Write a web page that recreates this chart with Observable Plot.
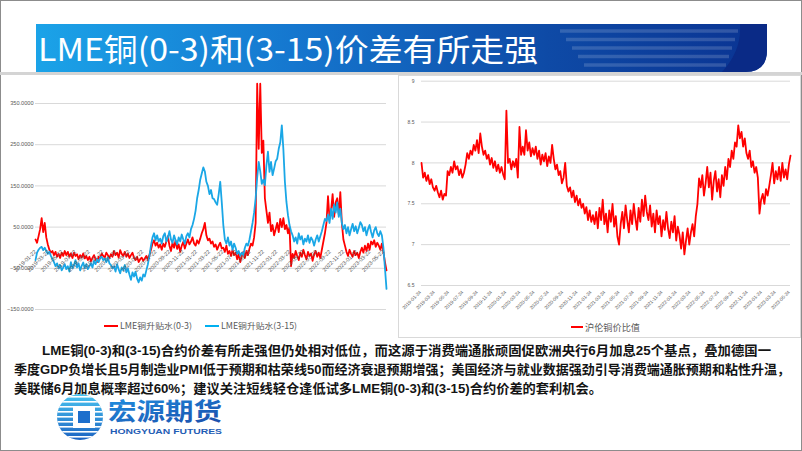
<!DOCTYPE html>
<html><head><meta charset="utf-8">
<script src="https://cdn.jsdelivr.net/npm/d3@7"></script>
<script src="https://cdn.jsdelivr.net/npm/@observablehq/plot@0.6"></script>
<style>
html,body{margin:0;padding:0;background:#fff;}
#slide{position:relative;width:802px;height:451px;overflow:hidden;background:#fff;}
.layer{position:absolute;}
</style></head>
<body><div id="slide"></div>
<script>
// ---------- data ----------
const titleText = "LME铜(0-3)和(3-15)价差有所走强";
const seriesNames = ["LME铜升贴水(0-3)", "LME铜升贴水(3-15)", "沪伦铜价比值"];
const leftTicks = [-150, -50, 50, 150, 250, 350];
const rightTicks = [6.5, 7, 7.5, 8, 8.5, 9];
const leftDateLabels = ["2019-01-22","2019-03-22","2019-05-22","2019-07-22","2019-09-22","2019-11-22",
  "2020-01-22","2020-03-22","2020-05-22","2020-07-22","2020-09-22","2020-11-22",
  "2021-01-22","2021-03-22","2021-05-22","2021-07-22","2021-09-22","2021-11-22",
  "2022-01-22","2022-03-22","2022-05-22","2022-07-22","2022-09-22","2022-11-22",
  "2023-01-22","2023-03-22","2023-05-22"];
const rightDateLabels = ["2019-01-24","2019-03-24","2019-05-24","2019-07-24","2019-09-24","2019-11-24",
  "2020-01-24","2020-03-24","2020-05-24","2020-07-24","2020-09-24","2020-11-24",
  "2021-01-24","2021-03-24","2021-05-24","2021-07-24","2021-09-24","2021-11-24",
  "2022-01-24","2022-03-24","2022-05-24","2022-07-24","2022-09-24","2022-11-24",
  "2023-01-24","2023-03-24","2023-05-24"];
const leftStart = "2019-01-22";   // weekly observations
const rightStart = "2019-01-24";  // weekly observations

const spread03 = [
  20,12,28,45,72,38,60,25,8,-5,-12,
  -8,-18,-10,-22,-15,-25,-12,-20,-8,-18,
  -10,-22,-14,-25,-12,-20,-16,-28,-18,-24,-14,-26,-20,
  -30,-22,-33,-25,-18,-28,-35,-22,-26,
  -14,-20,-24,-12,-18,-25,-16,-22,
  -8,-18,-12,-24,-6,-15,-20,-10,-22,-14,-25,-18,-12,
  -25,-30,-22,-35,-28,-24,-32,-26,-20,-30,-18,
  -5,10,18,5,12,0,
  8,-5,10,2,15,28,5,-8,12,0,18,-3,8,-10,5,14,-2,10,20,
  8,15,25,10,5,18,10,22,35,
  45,60,30,18,22,
  10,15,2,8,-5,5,12,-2,
  0,-10,5,-15,-8,-20,-5,-18,-12,-28,-15,-35,-20,-10,-25,-8,-18,-2,
  10,5,25,60,
  398,240,398,230,260,120,90,
  60,85,40,55,30,45,
  60,38,70,50,72,45,55,35,50,
  -45,
  -15,-25,-8,-20,-30,-12,-22,-5,-18,-28,-10,-20,-14,-32,-16,-8,-22,-12,-25,-5,15,35,60,
  125,70,90,130,75,110,120,80,135,
  60,20,5,-10,-20,-5,-15,-22,-8,-18,-12,-25,-10,
  0,-12,5,-8,10,-5,15,8,18,2,12,5,-5,10,
  -10,-35,-55];

const spread315 = [
  -30,-12,-5,0,2,-6,0,-8,-15,-10,-20,
  -28,-35,-45,-38,-50,-42,-55,-48,-40,-52,
  -45,-58,-35,-50,-42,-30,-48,-38,-55,-44,-36,-50,-40,
  -52,-45,-38,-48,-32,-40,-28,-35,-25,
  -22,-30,-26,-35,-24,-38,-42,-50,
  -45,-58,-40,-52,-62,-48,-55,-42,-60,-50,-65,-78,-60,
  -70,-58,-75,-84,-72,-80,-65,-70,-55,-40,-20,
  5,25,35,18,30,15,
  22,10,28,35,15,25,40,20,12,30,18,8,25,15,32,20,10,28,35,
  25,45,55,70,90,120,140,165,180,
  195,185,160,150,130,
  140,120,118,110,104,130,160,110,
  55,20,10,25,5,15,-5,10,0,-15,-8,-20,-12,-18,0,10,5,20,
  40,60,85,120,
  170,208,185,155,165,152,200,
  233,184,208,176,192,210,
  216,240,256,297,240,160,111,79,55,
  40,
  30,15,25,10,35,20,28,8,22,15,30,12,25,18,5,20,30,15,28,40,55,70,65,
  80,60,95,70,105,85,110,75,95,
  60,45,55,35,50,30,45,58,40,52,35,48,62,
  55,40,50,30,45,55,38,25,42,50,35,28,40,30,
  0,-50,-100];

const ratio = [
  8.0,7.82,7.88,7.78,7.85,
  7.74,7.80,7.70,7.66,7.72,7.64,
  7.58,7.66,7.55,7.62,
  7.60,7.90,7.85,7.95,7.88,8.02,7.92,7.96,7.85,7.92,7.82,7.88,
  7.98,8.12,8.05,8.15,8.10,
  8.22,8.15,8.28,8.12,8.36,8.20,
  8.10,8.15,8.05,8.10,7.98,8.06,7.94,8.02,7.90,7.98,7.88,7.95,7.86,7.80,
  8.64,8.00,
  8.05,7.92,8.02,7.95,8.05,7.82,
  8.44,8.10,
  8.20,8.10,8.40,8.15,8.25,8.08,8.18,8.10,
  8.20,8.05,8.15,7.98,8.10,8.02,8.12,7.96,8.08,8.00,8.22,
  8.05,7.92,7.98,7.85,7.90,7.75,7.82,8.00,
  7.72,7.65,7.70,7.58,7.66,7.52,7.60,7.48,7.56,7.45,
  7.50,7.38,7.46,7.30,7.42,7.28,7.36,7.25,
  7.40,7.20,7.45,7.30,7.55,7.25,7.38,7.15,7.42,7.28,7.50,7.22,7.35,7.10,7.00,
  7.25,7.40,7.20,7.48,7.30,7.15,7.42,7.25,7.50,7.32,7.18,7.45,7.28,7.55,7.35,7.60,7.40,
  7.30,7.48,7.22,7.38,7.15,7.42,7.25,7.35,7.10,7.30,7.18,7.40,7.20,7.08,7.28,7.15,7.35,7.05,7.22,7.12,6.95,7.15,6.88,
  7.05,7.20,7.00,7.15,7.25,7.10,7.35,7.50,
  7.81,7.70,7.85,7.60,7.75,7.95,7.70,7.88,7.55,7.78,7.90,7.65,7.80,7.58,7.85,7.72,7.95,7.80,
  8.05,7.95,8.15,8.05,8.25,8.20,8.46,8.30,
  8.38,8.20,8.30,8.12,8.05,8.15,7.95,8.02,7.88,7.95,
  7.82,7.38,7.55,7.62,7.50,7.68,7.60,7.72,
  7.85,8.00,7.75,7.90,7.80,7.95,7.78,8.00,7.82,7.92,7.80,7.98,8.09];

const paragraphLines = [
  "LME铜(0-3)和(3-15)合约价差有所走强但仍处相对低位，而这源于消费端通胀顽固促欧洲央行6月加息25个基点，叠加德国一",
  "季度GDP负增长且5月制造业PMI低于预期和枯荣线50而经济衰退预期增强；美国经济与就业数据强劲引导消费端通胀预期和粘性升温，",
  "美联储6月加息概率超过60%；建议关注短线轻仓逢低试多LME铜(0-3)和(3-15)合约价差的套利机会。"
];
const logoName = "宏源期货";
const logoEn = "HONGYUAN FUTURES";

// ---------- build ----------
const parse = d3.utcParse("%Y-%m-%d");
const weekly = (start, vals) => vals.map((v, i) => ({date: d3.utcDay.offset(parse(start), 7 * i), v}));
const d03 = weekly(leftStart, spread03);
const d315 = weekly(leftStart, spread315);
const dr = weekly(rightStart, ratio);

const slide = document.getElementById("slide");
const CJK = "'Noto Sans CJK SC','Liberation Sans',sans-serif";
const LAT = "'Liberation Sans','Noto Sans CJK SC',sans-serif";

// decorative slide layer
let deco = `<svg class="layer" style="left:0;top:0" width="802" height="451" xmlns="http://www.w3.org/2000/svg">
<defs>
 <linearGradient id="bn" x1="0" x2="1" y1="0" y2="0">
  <stop offset="0" stop-color="#1ba3e8"/><stop offset="0.35" stop-color="#1577cf"/>
  <stop offset="0.7" stop-color="#0e4aa6"/><stop offset="1" stop-color="#0a3392"/>
 </linearGradient>
 <linearGradient id="lg" x1="0" x2="0" y1="0" y2="1">
  <stop offset="0" stop-color="#4cc8f2"/><stop offset="1" stop-color="#1a5fc0"/>
 </linearGradient>
 <linearGradient id="lt" x1="0" x2="1" y1="0" y2="1">
  <stop offset="0" stop-color="#1f8fe0"/><stop offset="1" stop-color="#1a4aa8"/>
 </linearGradient>
 <clipPath id="cc"><circle cx="80" cy="417" r="23"/></clipPath>
</defs>
<rect x="0.5" y="0.5" width="801" height="450" fill="none" stroke="#8c8c8c"/>
<path d="M36,24 H767 V50 Q767,72 745,72 H36 Z" fill="url(#bn)"/>`;
[31, 39.5, 48, 56.5, 65].forEach((y, k) => {
  deco += `<line x1="${560 + k * 6}" x2="${738 - k * 3}" y1="${y}" y2="${y}" stroke="#ffffff" stroke-opacity="0.16" stroke-width="3.5"/>`;
});
deco += `<path d="M740,24 H767 V50 Q767,72 745,72 H722 Q742,50 740,24 Z" fill="#0a2a86"/>
<rect x="0" y="72" width="802" height="3" fill="#d4d4d4"/>
<text x="38" y="61" font-family="${CJK}" font-size="31" fill="#fff" textLength="500" lengthAdjust="spacingAndGlyphs">${titleText}</text>
<rect x="398.5" y="75.5" width="402" height="262" fill="none" stroke="#d9d9d9"/>
<line x1="104" x2="118" y1="326" y2="326" stroke="#ff0000" stroke-width="2"/>
<text x="120" y="329" font-family="${CJK}" font-size="8.5" fill="#595959" textLength="72" lengthAdjust="spacingAndGlyphs">${seriesNames[0]}</text>
<line x1="205" x2="219" y1="326" y2="326" stroke="#00b0f0" stroke-width="2"/>
<text x="221" y="329" font-family="${CJK}" font-size="8.5" fill="#595959" textLength="76" lengthAdjust="spacingAndGlyphs">${seriesNames[1]}</text>
<line x1="571" x2="583" y1="327" y2="327" stroke="#ff0000" stroke-width="2"/>
<text x="585" y="330.5" font-family="${CJK}" font-size="9.3" fill="#595959" textLength="55" lengthAdjust="spacingAndGlyphs">${seriesNames[2]}</text>`;
const pl = [[42, 355, 729], [14, 374, 776], [14, 393, 588]];
paragraphLines.forEach((t, k) => {
  deco += `<text x="${pl[k][0]}" y="${pl[k][1]}" font-family="${LAT}" font-weight="700" font-size="13" fill="#141414" textLength="${pl[k][2]}" lengthAdjust="spacingAndGlyphs">${t}</text>`;
});
// logo
deco += `<g clip-path="url(#cc)"><rect x="55" y="392" width="50" height="50" fill="url(#lg)"/>`;
for (let y = 396; y < 442; y += 5) deco += `<rect x="55" y="${y}" width="50" height="1.6" fill="#fff"/>`;
deco += `</g><rect x="73" y="406" width="22" height="22" fill="#fff"/><rect x="78" y="411" width="12" height="12" fill="#1d6fcc"/>
<text x="108" y="420" font-family="${LAT}" font-weight="700" font-size="24" fill="url(#lt)" textLength="114" lengthAdjust="spacingAndGlyphs">${logoName}</text>
<text x="110" y="434" font-family="'Liberation Sans',sans-serif" font-weight="700" font-size="8" fill="#1f5db5" textLength="112" lengthAdjust="spacingAndGlyphs">${logoEn}</text>
</svg>`;
slide.insertAdjacentHTML("beforeend", deco);

const baseStyle = {background: "transparent", fontFamily: "'Liberation Sans', sans-serif", overflow: "visible"};
const f4 = d3.format(".4f");

const left = Plot.plot({
  width: 395, height: 262, marginTop: 7.4, marginBottom: 28, marginLeft: 35, marginRight: 9,
  style: baseStyle,
  x: {type: "utc", domain: [d03[0].date, d03[d03.length - 1].date], axis: null},
  y: {domain: [-150, 400], axis: null},
  marks: [
    Plot.ruleY(leftTicks, {stroke: "#d9d9d9", strokeWidth: 1}),
    Plot.text(leftTicks, {y: d => d, text: d => f4(d), frameAnchor: "left", textAnchor: "end", dx: -2, fontSize: 5.6, fill: "#595959"}),
    Plot.line(d03, {x: "date", y: "v", stroke: "#ff0000", strokeWidth: 1.8}),
    Plot.line(d315, {x: "date", y: "v", stroke: "#1aa7e6", strokeWidth: 1.8}),
    Plot.text(leftDateLabels, {x: d => parse(d), y: d => 0, text: d => d, rotate: -45, textAnchor: "end", dy: 3, fontSize: 5.6, fill: "#595959"})
  ]
});
const lw = document.createElement("div");
lw.className = "layer"; lw.style.left = "0px"; lw.style.top = "75px";
lw.appendChild(left); slide.appendChild(lw);

const right = Plot.plot({
  width: 400, height: 262, marginTop: 5.7, marginBottom: 52, marginLeft: 21, marginRight: 10,
  style: baseStyle,
  x: {type: "utc", domain: [dr[0].date, dr[dr.length - 1].date], axis: null},
  y: {domain: [6.5, 9], axis: null},
  marks: [
    Plot.ruleY(rightTicks, {stroke: "#d9d9d9", strokeWidth: 1}),
    Plot.text(rightTicks, {y: d => d, text: d => String(d), frameAnchor: "left", textAnchor: "end", dx: -7, fontSize: 5, fill: "#595959"}),
    Plot.line(dr, {x: "date", y: "v", stroke: "#ff0000", strokeWidth: 1.8}),
    Plot.text(rightDateLabels, {x: d => parse(d), frameAnchor: "bottom", text: d => d, rotate: -45, textAnchor: "end", dy: 7, fontSize: 4.8, fill: "#595959"})
  ]
});
const rw = document.createElement("div");
rw.className = "layer"; rw.style.left = "400px"; rw.style.top = "75px";
rw.appendChild(right); slide.appendChild(rw);
</script>
</body></html>
